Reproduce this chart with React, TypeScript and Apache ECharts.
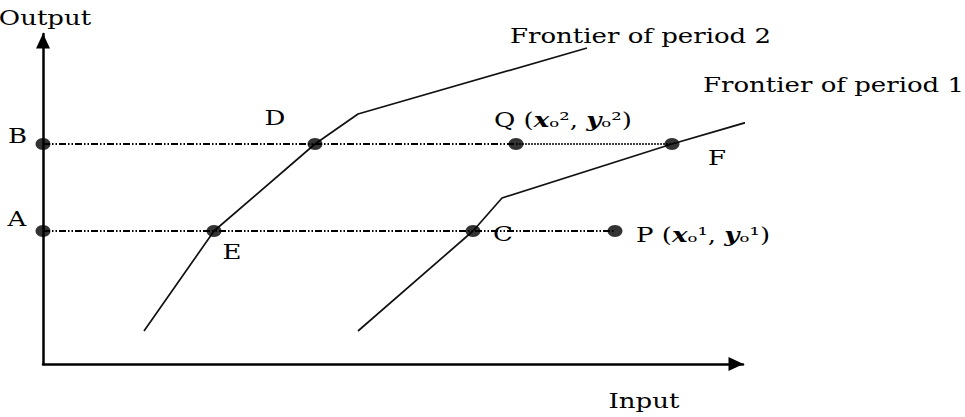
import React, { useEffect, useRef } from "react";
import * as echarts from "echarts";

// Axis extents (data units)
const X_MAX = 70;
const Y_MAX = 33;

// Output levels of the two observations
const LEVEL_A = 13.3;
const LEVEL_B = 22.0;

// Frontier polylines [input, output]
const frontier1: number[][] = [
  [31.5, 3.3],
  [43.0, 13.3],
  [45.9, 16.6],
  [62.9, 22.0],
  [78.7, 26.6],
];
const frontier2: number[][] = [
  [10.1, 3.3],
  [17.1, 13.3],
  [27.2, 22.0],
  [31.5, 25.0],
  [54.4, 31.6],
];

// Named points
const pointNames = ["A", "B", "E", "D", "C", "F", "Q", "P"];
const pointX = [0, 0, 17.1, 27.2, 43.0, 62.9, 47.3, 57.2];
const pointY = [LEVEL_A, LEVEL_B, LEVEL_A, LEVEL_B, LEVEL_A, LEVEL_B, LEVEL_B, LEVEL_A];

const FONT = "'DejaVu Serif', 'Liberation Serif', serif";
const FS = 20;
const SX = 1.3;
const INK = "#000";

export default function App() {
  const ref = useRef<HTMLDivElement>(null);

  useEffect(() => {
    if (!ref.current) return;
    const chart = echarts.init(ref.current, undefined, { renderer: "svg" });

    const pt = (name: string) => {
      const i = pointNames.indexOf(name);
      return [pointX[i], pointY[i]];
    };
    const dashDot = [7, 2, 1.5, 2, 1.5, 2];

    const axisCommon = {
      type: "value" as const,
      axisTick: { show: false },
      axisLabel: { show: false },
      splitLine: { show: false },
      axisLine: {
        show: true,
        symbol: ["none", "triangle"],
        symbolSize: [14, 15],
        symbolOffset: [0, -7],
        lineStyle: { color: "#000", width: 2.5 },
      },
    };

    chart.setOption({
      animation: false,
      backgroundColor: "#fff",
      grid: { left: 43, top: 34, width: 700, height: 330 },
      xAxis: { ...axisCommon, min: 0, max: X_MAX },
      yAxis: { ...axisCommon, min: 0, max: Y_MAX },
      series: [
        {
          type: "line",
          data: [pt("B"), pt("Q")],
          showSymbol: false,
          clip: false,
          lineStyle: { color: INK, width: 1.9, type: dashDot },
          z: 2,
        },
        {
          type: "line",
          data: [pt("Q"), pt("F")],
          showSymbol: false,
          clip: false,
          lineStyle: { color: INK, width: 1.7, type: [2, 1] },
          z: 2,
        },
        {
          type: "line",
          data: [pt("A"), pt("P")],
          showSymbol: false,
          clip: false,
          lineStyle: { color: INK, width: 1.9, type: dashDot },
          z: 2,
        },
        {
          type: "line",
          data: frontier1,
          showSymbol: false,
          clip: false,
          lineStyle: { color: "#111", width: 1.7 },
          z: 3,
        },
        {
          type: "line",
          data: frontier2,
          showSymbol: false,
          clip: false,
          lineStyle: { color: "#111", width: 1.7 },
          z: 3,
        },
        {
          type: "scatter",
          data: pointNames.map((n, i) => ({ name: n, value: [pointX[i], pointY[i]] })),
          symbol: "circle",
          symbolSize: [15, 12],
          clip: false,
          itemStyle: { color: "#000" },
          z: 5,
        },
      ],
    });

    const px = (v: number[]) => chart.convertToPixel({ gridIndex: 0 }, v) as number[];

    const bi = { fontFamily: FONT, fontSize: FS, fontWeight: "bold", fontStyle: "italic", fill: "#000" };
    const rich = { i: bi };

    const label = (
      anchor: number[],
      dx: number,
      dy: number,
      text: string,
      align: "left" | "center" = "center"
    ) => {
      const p = px(anchor);
      return {
        type: "text",
        x: p[0] + dx,
        y: p[1] + dy,
        scaleX: SX,
        style: {
          text,
          fontFamily: FONT,
          fontSize: FS,
          fill: "#000",
          align,
          verticalAlign: "middle",
          rich,
        },
        z: 10,
      };
    };

    const graphics = [
      label([0, Y_MAX], 2, -16, "Output"),
      label([X_MAX, 0], -99, 37, "Input"),
      label(pt("B"), -25.5, -8, "B"),
      label(pt("A"), -26, -12, "A"),
      label(pt("D"), -40, -26, "D"),
      label(pt("E"), 18, 20.5, "E"),
      label(pt("C"), 30, 3, "C"),
      label(pt("F"), 45, 13.5, "F"),
      label(pt("Q"), -22, -24, "Q ({i|x}ₒ², {i|y}ₒ²)", "left"),
      label(pt("P"), 21, 4, "P ({i|x}ₒ¹, {i|y}ₒ¹)", "left"),
      label(frontier2[frontier2.length - 1], -77, -12, "Frontier of period 2", "left"),
      label(frontier1[frontier1.length - 1], -127, -13, "Frontier of period 1", "left"),
    ];

    chart.setOption({ graphic: graphics });

    return () => chart.dispose();
  }, []);

  return (
    <div
      ref={ref}
      style={{ position: "fixed", left: 0, top: 0, width: 965, height: 417, background: "#fff" }}
    />
  );
}
